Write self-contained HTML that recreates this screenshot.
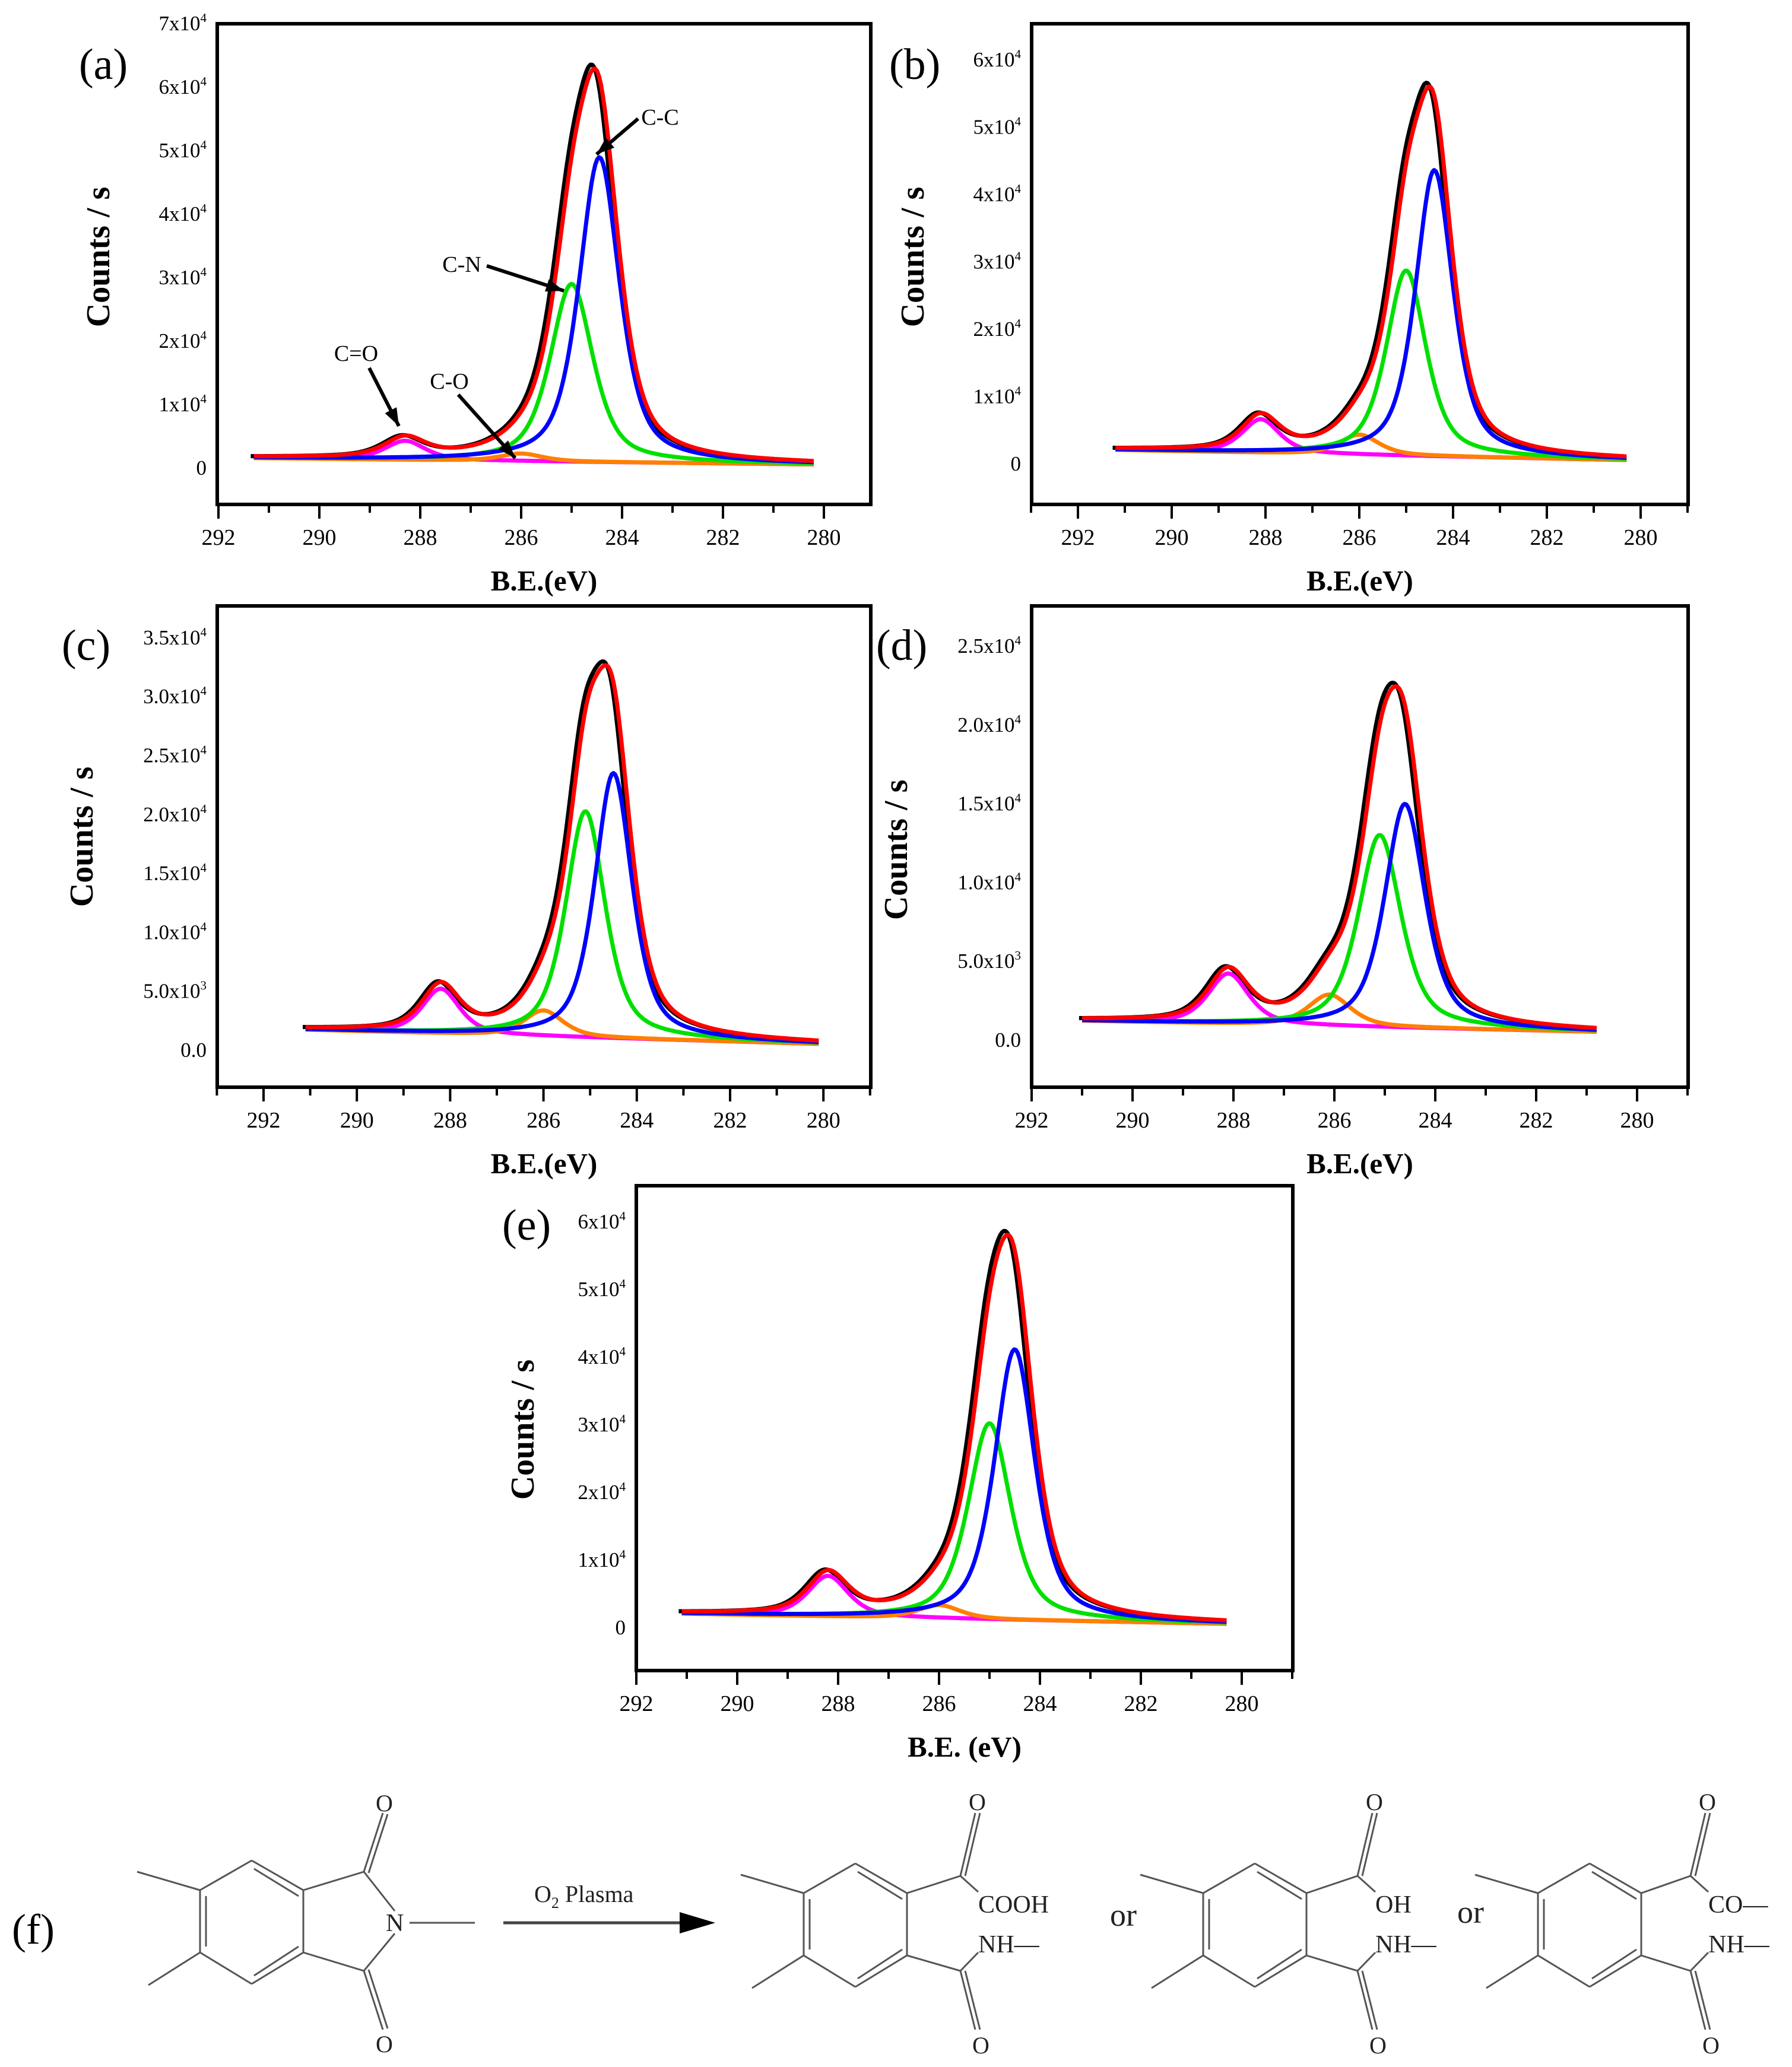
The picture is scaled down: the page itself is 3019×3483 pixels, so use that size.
<!DOCTYPE html>
<html><head><meta charset="utf-8">
<style>
html,body{margin:0;padding:0;background:#fff;}
svg{display:block;}
svg text{font-family:"Liberation Serif","Times New Roman",serif;}
</style></head>
<body>
<svg id="fig" width="3019" height="3483" viewBox="0 0 3019 3483" xmlns="http://www.w3.org/2000/svg" font-family="Liberation Serif, serif"></svg>
<script>
// ---- Data: peak parameters per panel (center eV, height above baseline, FWHM) ----
const panelIds = ['a','b','c','d','e'];
const ccCenter = [284.45, 284.4, 284.5, 284.6, 284.5];
const ccHeight = [4.8, 4.25, 2.25, 1.42, 4.0];
const cnCenter = [285.0, 285.0, 285.1, 285.1, 285.0];
const cnHeight = [2.8, 2.75, 1.92, 1.22, 2.9];
const coCenter = [286.0, 286.0, 286.0, 286.1, 286.0];
const coHeight = [0.12, 0.3, 0.22, 0.2, 0.2];
const cdoCenter = [288.3, 288.1, 288.2, 288.1, 288.2];
const cdoHeight = [0.3, 0.5, 0.38, 0.32, 0.6];
const baseLeft = [0.15, 0.2, 0.17, 0.12, 0.2];
const baseRight = [0.05, 0.05, 0.05, 0.05, 0.05];
const dataLeft = [291.3, 291.2, 291.1, 291.0, 291.1];
const dataRight = [280.2, 280.3, 280.1, 280.8, 280.3];
// y-axis tick values (in units of 1e4)
const yTicksA = [0,1,2,3,4,5,6,7];
const yTicksB = [0,1,2,3,4,5,6];
const yTicksC = [0,0.5,1,1.5,2,2.5,3,3.5];
const yTicksD = [0,0.5,1,1.5,2,2.5];
const yTicksE = [0,1,2,3,4,5,6];
const xTicks = [292,290,288,286,284,282,280];

const NS='http://www.w3.org/2000/svg';
const svg=document.getElementById('fig');
function mk(tag,attrs,parent){const e=document.createElementNS(NS,tag);for(const k in attrs)e.setAttribute(k,attrs[k]);if(tag==='text')e.setAttribute('font-family','Liberation Serif, Times New Roman, serif');(parent||svg).appendChild(e);return e;}

const layout = [
 {x0:366,x1:1467,y0:40,y1:850, xa:292,xpx:368,xs:85, ypx0:788, ys:107, yticks:yTicksA, fmt:'int', lab:[133,133], yt:[166,433]},
 {x0:1738,x1:2844,y0:40,y1:850, xa:292,xpx:1816,xs:79, ypx0:781, ys:113.5, yticks:yTicksB, fmt:'int', lab:[1498,133], yt:[1538,433]},
 {x0:366,x1:1467,y0:1021,y1:1832, xa:292,xpx:444,xs:78.6, ypx0:1769, ys:198.6, yticks:yTicksC, fmt:'dec', lab:[104,1112], yt:[138,1410]},
 {x0:1738,x1:2844,y0:1021,y1:1832, xa:292,xpx:1738,xs:85, ypx0:1752, ys:265.6, yticks:yTicksD, fmt:'dec', lab:[1476,1112], yt:[1510,1432]},
 {x0:1072,x1:2178,y0:1998,y1:2815, xa:292,xpx:1072,xs:85, ypx0:2742, ys:114, yticks:yTicksE, fmt:'int', lab:[846,2089], yt:[881,2409]}
];

function pv(x,c,h,w){const eta=0.6;const g=Math.exp(-4*Math.LN2*Math.pow((x-c)/w,2));const l=1/(1+4*Math.pow((x-c)/w,2));return h*(eta*l+(1-eta)*g);}

layout.forEach((L,i)=>{
 const g=mk('g',{});
 
 
 const X=v=>L.xpx+(L.xa-v)*L.xs;
 const Y=v=>L.ypx0-v*L.ys;
 const cp=mk('clipPath',{id:'clip'+i},g);
 mk('rect',{x:L.x0,y:L.y0,width:L.x1-L.x0,height:L.y1-L.y0},cp);
 const base=x=>baseRight[i]+(baseLeft[i]-baseRight[i])*(x-dataRight[i])/(dataLeft[i]-dataRight[i]);
 const comps=[
  {n:'cc',col:'#0000ff',f:x=>pv(x,ccCenter[i],ccHeight[i],0.95)},
  {n:'cn',col:'#00e000',f:x=>pv(x,cnCenter[i],cnHeight[i],1.0)},
  {n:'co',col:'#ff8000',f:x=>pv(x,coCenter[i],coHeight[i],1.0)},
  {n:'cdo',col:'#ff00ff',f:x=>pv(x,cdoCenter[i],cdoHeight[i],0.95)}
 ];
 const cg=mk('g',{'clip-path':'url(#clip'+i+')'},g);
 function path(fn,col,name,shift){let d='';const N=300;for(let k=0;k<=N;k++){const x=dataLeft[i]-(dataLeft[i]-dataRight[i])*k/N;d+=(k?'L':'M')+X(x+(shift||0)).toFixed(1)+','+Y(fn(x)).toFixed(1);}
  const p=mk('path',{d:d,fill:'none',stroke:col,'stroke-width':7,'stroke-linejoin':'round'},cg);
  
  }
 const total=x=>base(x)+comps.reduce((s,c)=>s+c.f(x),0);
 path(x=>total(x)*1.01,'#000','raw-data-curve',0.06);
 comps.slice().reverse().forEach(c=>path(x=>base(x)+c.f(x),c.col,'fit-'+c.n));
 path(total,'#ff0000','envelope-curve');
 const r=mk('rect',{x:L.x0,y:L.y0,width:L.x1-L.x0,height:L.y1-L.y0,fill:'none',stroke:'#000','stroke-width':6},g);
 
 
 for(let v=293;v>=279;v--){const px=X(v);if(px<L.x0-1||px>L.x1+1)continue;
  const major=xTicks.includes(v);mk('line',{x1:px,x2:px,y1:L.y1,y2:L.y1+(major?24:14),stroke:'#000','stroke-width':4},g);
  if(major){const t=mk('text',{x:px,y:L.y1+68,'font-size':38,'text-anchor':'middle'},g);t.textContent=v;
   
   }}
 const xt=mk('text',{x:(L.x0+L.x1)/2,y:L.y1+145,'font-size':49,'font-weight':'bold','text-anchor':'middle'},g);
 xt.textContent=i==4?'B.E. (eV)':'B.E.(eV)';
 
 
 L.yticks.forEach(v=>{const py=Y(v);const t=mk('text',{x:L.x0-18,y:py+12,'font-size':35,'text-anchor':'end'},g);
  
  
  if(v===0){t.textContent=L.fmt==='dec'?'0.0':'0';}
  else if(L.fmt==='int'){t.textContent=v+'x10';const s=mk('tspan',{dy:-14,'font-size':21},t);s.textContent='4';}
  else {const exp=v<1?3:4;const m=v<1?(v*10).toFixed(1):v.toFixed(1);t.textContent=m+'x10';const s=mk('tspan',{dy:-14,'font-size':21},t);s.textContent=exp;}
 });
 const yl=mk('text',{x:0,y:0,'font-size':56,'font-weight':'bold','text-anchor':'middle',transform:'translate('+(L.yt[0]+18)+','+L.yt[1]+') rotate(-90)'},g);
 yl.textContent='Counts / s';
 
 
 const pl=mk('text',{x:L.lab[0],y:L.lab[1],'font-size':74},g);
 pl.textContent='('+panelIds[i]+')';
 
 
});

// annotations panel (a): label, label x, label y, arrow start, arrow tip
const ann=[['C-C',1112,210,1075,200,1005,260],['C-N',778,458,820,448,950,490],['C=O',600,608,622,620,672,718],['C-O',757,655,772,665,868,772]];
ann.forEach(a=>{const t=mk('text',{x:a[1],y:a[2],'font-size':38,'text-anchor':'middle'});t.textContent=a[0];
 
 
 mk('line',{x1:a[3],y1:a[4],x2:a[5],y2:a[6],stroke:'#000','stroke-width':6});
 const ang=Math.atan2(a[6]-a[4],a[5]-a[3]);
 const p1=[a[5]-32*Math.cos(ang-0.35),a[6]-32*Math.sin(ang-0.35)],p2=[a[5]-32*Math.cos(ang+0.35),a[6]-32*Math.sin(ang+0.35)];
 mk('polygon',{points:a[5]+','+a[6]+' '+p1.join(',')+' '+p2.join(','),fill:'#000'});
});

// ---- panel (f) chemistry ----
const chem=mk('g',{stroke:'#555','stroke-width':3,fill:'none'});


function ln(a,b,c,d){mk('line',{x1:a,y1:b,x2:c,y2:d},chem);}
function txt(s,x,y,name,fs){const t=mk('text',{x:x,y:y,'font-size':fs||42,fill:'#222',stroke:'none'},chem);t.textContent=s;return t;}
function ring(tx,ty){const v=[[0,0],[87,50],[87,155],[0,208],[-87,155],[-87,50]].map(p=>[tx+p[0],ty+p[1]]);
 for(let k=0;k<6;k++){const a=v[k],b=v[(k+1)%6];ln(a[0],a[1],b[0],b[1]);}
 ln(v[0][0]+4,v[0][1]+14,v[1][0]-8,v[1][1]+10);ln(v[2][0]-8,v[2][1]-10,v[3][0]+4,v[3][1]-14);ln(v[4][0]+10,v[4][1]-10,v[5][0]+10,v[5][1]+10);
 ln(v[5][0],v[5][1],v[5][0]-106,v[5][1]-31);ln(v[4][0],v[4][1],v[4][0]-87,v[4][1]+55);return v;}
let v=ring(424,3135);
ln(v[1][0],v[1][1],613,3154);ln(v[2][0],v[2][1],613,3321);
ln(613,3154,645,3055);ln(621,3156,653,3057);ln(613,3321,645,3420);ln(621,3319,653,3418);
txt('O',633,3052,'oxygen-label',40);txt('O',633,3458,'oxygen-label',40);
ln(613,3154,665,3220);ln(613,3321,665,3258);txt('N',650,3254,'nitrogen-label',42);ln(690,3240,800,3240);
mk('line',{x1:848,y1:3240,x2:1150,y2:3240,stroke:'#444','stroke-width':5},chem);
mk('polygon',{points:'1205,3240 1145,3222 1145,3258',fill:'#000',stroke:'none'},chem);
const op=txt('O',900,3205,'o2-plasma-label',40);const sub=mk('tspan',{dy:10,'font-size':26},op);sub.textContent='2';const pl2=mk('tspan',{dy:-10},op);pl2.textContent=' Plasma';
function prod(tx,ty,cx,label1,label2){const v=ring(tx,ty);const cTop=[cx,ty+21],cBot=[cx,ty+181];
 ln(v[1][0],v[1][1],cTop[0],cTop[1]);ln(v[2][0],v[2][1],cBot[0],cBot[1]);
 ln(cTop[0],cTop[1],cTop[0]+25,ty-85);ln(cTop[0]+8,cTop[1],cTop[0]+33,ty-85);
 ln(cBot[0],cBot[1],cBot[0]+25,ty+280);ln(cBot[0]+8,cBot[1],cBot[0]+33,ty+280);
 txt('O',cTop[0]+14,ty-90,'oxygen-label',40);txt('O',cBot[0]+20,ty+320,'oxygen-label',40);
 ln(cTop[0],cTop[1],cTop[0]+30,ty+48);ln(cBot[0],cBot[1],cBot[0]+30,ty+150);
 txt(label1,cTop[0]+30,ty+83,'group-label',42);txt(label2,cTop[0]+30,ty+150,'group-label',42);}
prod(1441,3140,1618,'COOH','NH—');
txt('or',1870,3245,'or-label',54);
prod(2114,3140,2287,'OH','NH—');
txt('or',2455,3240,'or-label',54);
prod(2678,3140,2848,'CO—','NH—');
const fl=txt('(f)',20,3275,'panel-label',72);fl.setAttribute('fill','#000');
</script>
</body></html>
